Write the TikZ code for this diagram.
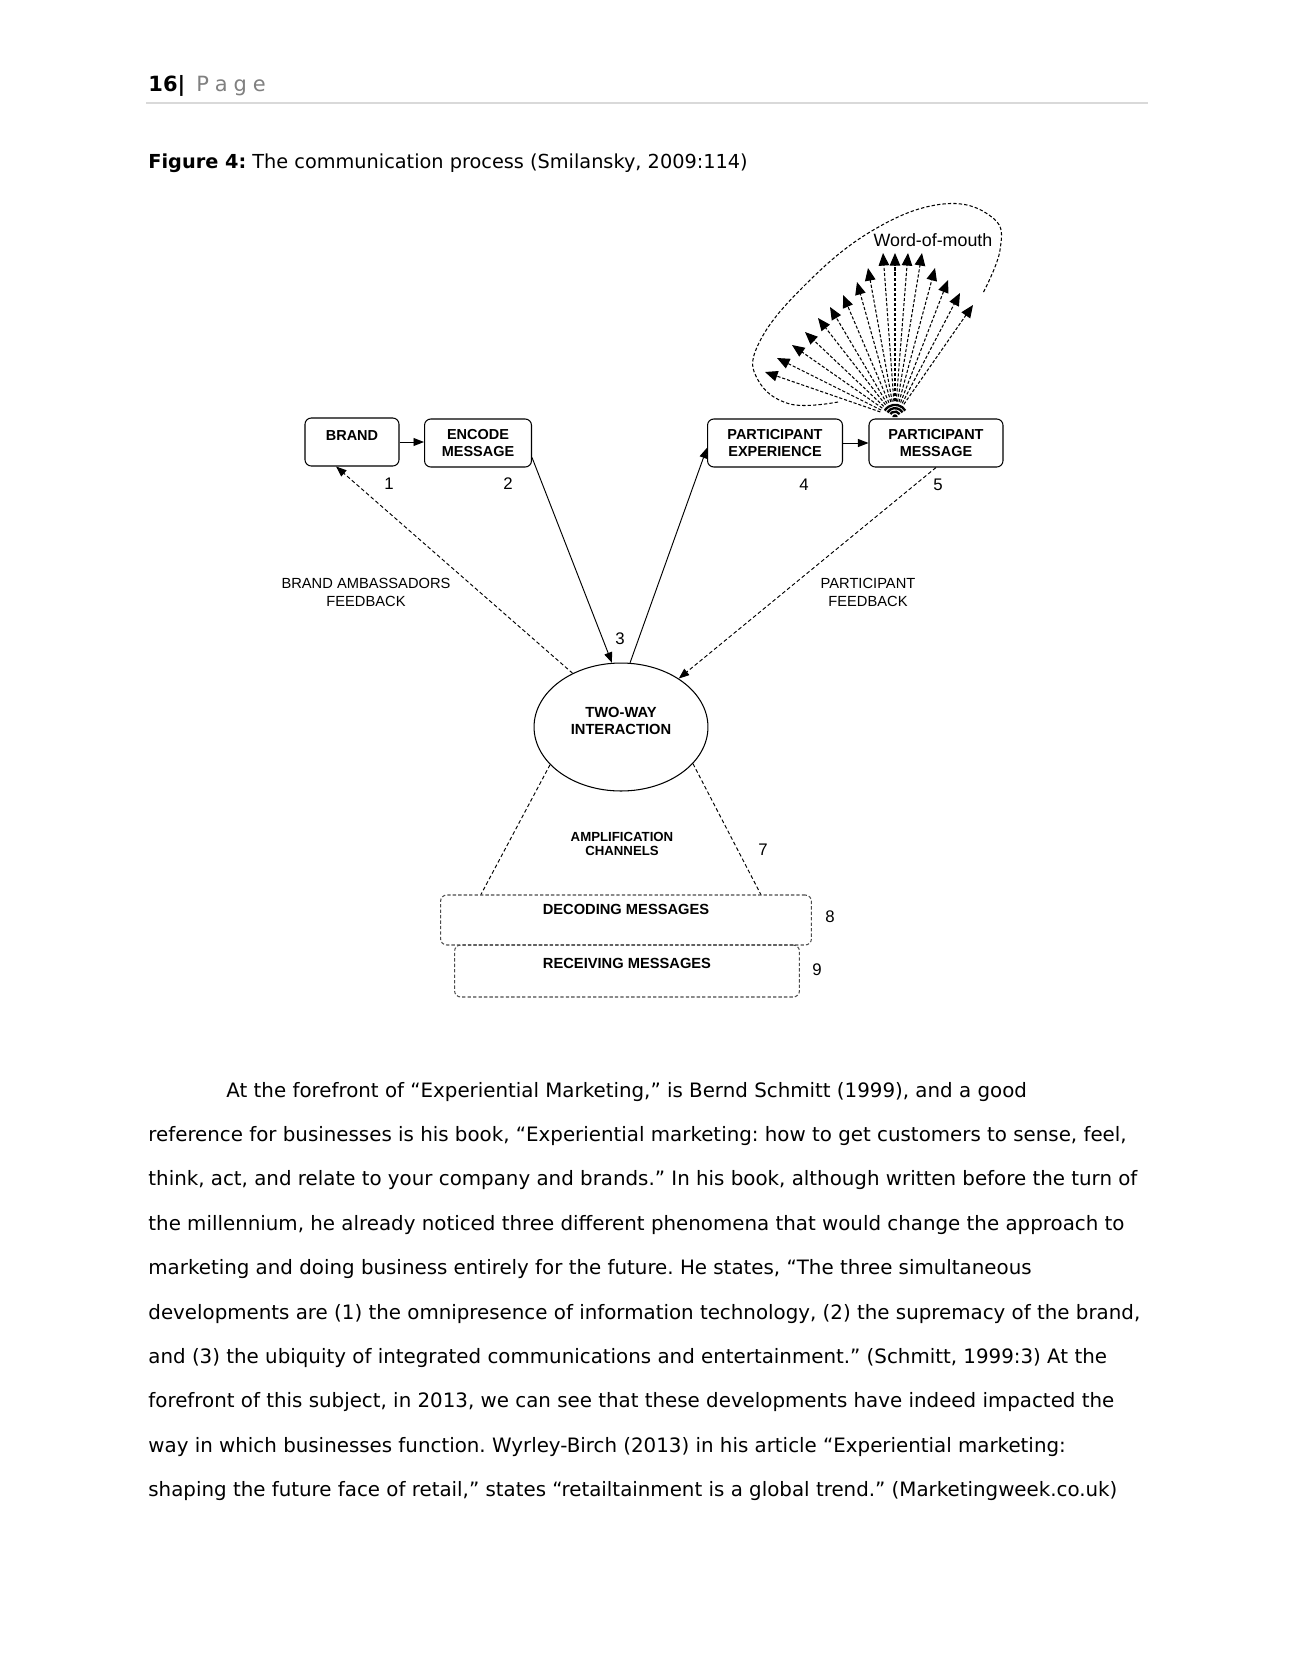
\documentclass[tikz,border=0pt]{standalone}
\usepackage{fontspec}
\setmainfont{DejaVu Sans}
\newfontfamily\diafont{Liberation Sans}
\usetikzlibrary{arrows.meta,shapes.geometric,calc}
\frenchspacing

\begin{document}
\begin{tikzpicture}[
        x=0.01675cm, y=-0.01675cm,
        every node/.style={inner sep=0pt},
        bodyline/.style={anchor=base west, font=\fontsize{9.45}{11}\selectfont},
        procbox/.style={draw, rectangle, rounded corners=3pt, line width=0.5pt, minimum height=0.804cm, align=center, font=\diafont\fontsize{6.9}{8.5}\selectfont\bfseries},
        chanbox/.style={draw=black!70, rectangle, rounded corners=3pt, line width=0.5pt, dash pattern=on 1.6pt off 1pt, font=\diafont\fontsize{7}{8}\selectfont\bfseries, text height=5pt},
        flowlabel/.style={align=center, font=\diafont\fontsize{7}{8.6}\selectfont},
        stepnum/.style={font=\diafont\fontsize{8}{9}\selectfont},
        flow/.style={-{Triangle[length=5pt,width=3.8pt]}, line width=0.45pt},
        feedback/.style={flow, dash pattern=on 1.8pt off 1.2pt},
        channel/.style={line width=0.45pt, dash pattern=on 1.8pt off 1.2pt},
        wordarrow/.style={-{Triangle[length=6pt,width=5pt]}, line width=0.5pt, dash pattern=on 1.5pt off 0.9pt, shorten <=5pt}
    ]

        % Seite
        \fill[white] (0,0) rectangle (1289,1671);
        \useasboundingbox (0,0) rectangle (1289,1671);

        % Kopfzeile und Titel
        \node[anchor=base west, font=\fontsize{10}{12}\selectfont\bfseries] (pnum) at (148,91) {16|};
        \node[anchor=base west, font=\fontsize{10}{12}\selectfont, text=black!50] (pword) at (196,91) {P\hspace{2.8pt}a\hspace{2.8pt}g\hspace{2.8pt}e};
        \draw[black!15, line width=1.3pt] (146,103) -- (1148,103);
        \node[anchor=base west, font=\fontsize{9.2}{11}\selectfont] (caption) at (148,168) {\textbf{Figure 4:} The communication process (Smilansky, 2009:114)};

        % Kaesten oben
        \node[procbox, minimum width=1.575cm, text height=5pt, text depth=6pt] (brand) at (352,442) {BRAND};
        \node[procbox, minimum width=1.792cm] (encode) at (478,443) {ENCODE\\MESSAGE};
        \node[procbox, minimum width=2.261cm] (pexp) at (775,443) {PARTICIPANT\\EXPERIENCE};
        \node[procbox, minimum width=2.245cm] (pmsg) at (936,443) {PARTICIPANT\\MESSAGE};

        % Interaktion
        \node[draw, ellipse, line width=0.5pt, minimum width=2.914cm, minimum height=2.144cm, align=center, text depth=6pt, font=\diafont\fontsize{7}{8.1}\selectfont\bfseries] (inter) at (621,727) {TWO-WAY\\INTERACTION};

        % Kaesten unten
        \node[chanbox, minimum width=5.779cm, minimum height=0.871cm, text depth=7.6pt] (receive) at (627,971) {RECEIVING MESSAGES};
        \node[chanbox, minimum width=6.214cm, minimum height=0.838cm, text depth=10.4pt] (decode) at (626,920) {DECODING MESSAGES};

        % Beschriftungen
        \node[flowlabel] (brandfb) at (366,592) {BRAND AMBASSADORS\\FEEDBACK};
        \node[flowlabel] (partfb) at (868,592) {PARTICIPANT\\FEEDBACK};
        \node[align=center, font=\diafont\fontsize{6.3}{6.8}\selectfont\bfseries] (ampl) at (622,844) {AMPLIFICATION\\CHANNELS};
        \node[stepnum] (n1) at (389,484) {1};
        \node[stepnum] (n2) at (508,484) {2};
        \node[stepnum] (n3) at (620,639) {3};
        \node[stepnum] (n4) at (804,485) {4};
        \node[stepnum] (n5) at (938,485) {5};
        \node[stepnum] (n7) at (763,850) {7};
        \node[stepnum] (n8) at (830,917) {8};
        \node[stepnum] (n9) at (817,970) {9};

        % Pfeile
        \draw[flow] (brand) -- (encode.west |- brand);
        \draw[flow] (pexp) -- (pmsg);
        \draw[flow] (encode.-15) -- (inter.98);
        \draw[flow] (inter.82) -- (pexp.184);
        \draw[feedback] (inter.132) -- (brand.237);
        \draw[feedback] (pmsg.south) -- (inter.40);
        \draw[channel] (inter.208.5) -- ($(decode.north west)!0.11!(decode.north east)$);
        \draw[channel] (inter.-27.5) -- ($(decode.north west)!0.8625!(decode.north east)$);

        % Mundpropaganda
        \coordinate (src) at (895,417);
        \draw[line width=0.5pt, dash pattern=on 1.6pt off 1pt] plot[smooth, tension=0.7] coordinates {(838,402) (790,404) (758,380) (758,345) (800,290) (870,232) (943,204) (993,218) (1000,250) (983,293)};
        \node[font=\diafont\fontsize{8.5}{10}\selectfont] (wom) at (933,240) {Word-of-mouth};
        \foreach \wx/\wy [count=\i] in {765/372, 777/358, 792/345, 805/332, 818/318, 830/307, 843/295, 857/282, 868/268, 883/253, 895/253, 908/253, 922/253, 935/268, 948/280, 960/293, 973/305} {
            \coordinate (tip\i) at (\wx,\wy);
            \draw[wordarrow] (src) -- (tip\i);
        }
        \fill[white] (src) ++(0:6.8pt) arc[start angle=0, end angle=180, radius=6.8pt] -- cycle;
        \foreach \r in {2.6pt, 4.2pt, 5.8pt}
            \draw[line width=1.1pt] (src) ++(32:\r) arc[start angle=32, end angle=148, radius=\r];
        \fill (src) ++(0:1.3pt) arc[start angle=0, end angle=180, radius=1.3pt] -- cycle;

        % Fliesstext
        \node[bodyline] (l1) at (226,1097) {At the forefront of “Experiential Marketing,” is Bernd Schmitt (1999), and a good};
        \node[bodyline] (l2) at (148,1141.4) {reference for businesses is his book, “Experiential marketing: how to get customers to sense, feel,};
        \node[bodyline] (l3) at (148,1185.8) {think, act, and relate to your company and brands.” In his book, although written before the turn of};
        \node[bodyline] (l4) at (148,1230.2) {the millennium, he already noticed three different phenomena that would change the approach to};
        \node[bodyline] (l5) at (148,1274.6) {marketing and doing business entirely for the future. He states, “The three simultaneous};
        \node[bodyline] (l6) at (148,1319) {developments are (1) the omnipresence of information technology, (2) the supremacy of the brand,};
        \node[bodyline] (l7) at (148,1363.4) {and (3) the ubiquity of integrated communications and entertainment.” (Schmitt, 1999:3) At the};
        \node[bodyline] (l8) at (148,1407.8) {forefront of this subject, in 2013, we can see that these developments have indeed impacted the};
        \node[bodyline] (l9) at (148,1452.2) {way in which businesses function. Wyrley-Birch (2013) in his article “Experiential marketing:};
        \node[bodyline] (l10) at (148,1496.6) {shaping the future face of retail,” states “retailtainment is a global trend.” (Marketingweek.co.uk)};

    \end{tikzpicture}
\end{document}
